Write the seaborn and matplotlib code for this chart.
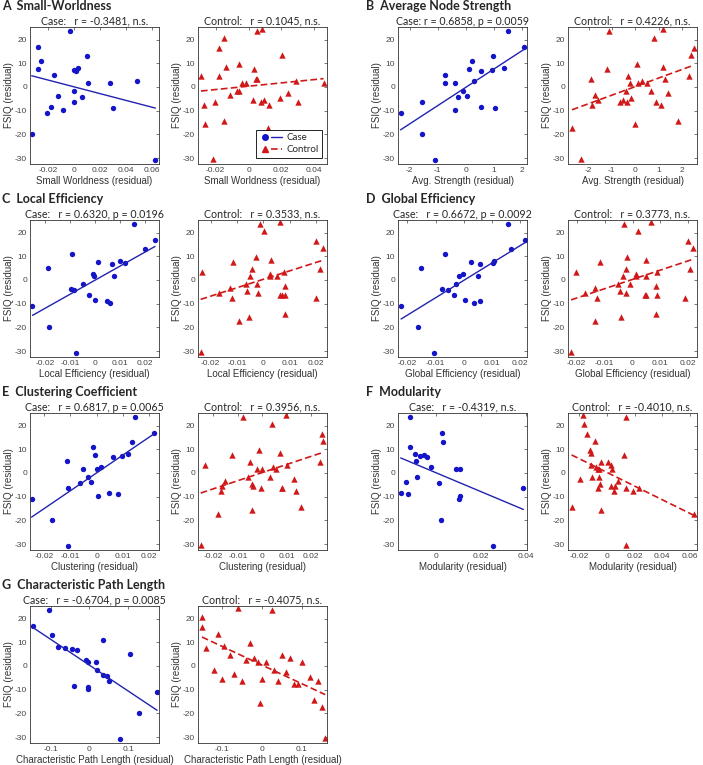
import matplotlib
matplotlib.use('Agg')
import matplotlib.pyplot as plt
import seaborn as sns
from matplotlib.lines import Line2D
from matplotlib.legend_handler import HandlerTuple

sns.set_style('white')
plt.rcParams['font.family'] = ['Liberation Sans', 'DejaVu Sans']

# FSIQ residuals (same subjects in every panel)
case_fsiq = [23.8, 16.9, 12.9, 10.8, 7.6, 7.9, 7.0, 6.6, 4.9, 2.6, 1.6, 1.8,
             -1.5, -3.9, -4.2, -6.2, -8.3, -8.8, -9.8, -10.8, -19.8, -30.9]
ctrl_fsiq = [24.5, 23.5, 20.5, 16.5, 13.5, 9.5, 8.5, 7.5, 4.5, 4.5, 3.5, 3.5,
             2.4, 1.6, 1.6, 1.5, -1.5, -1.5, -2.5, -3.5, -4.6, -5.5, -5.5, -6.4,
             -6.4, -6.4, -7.5, -7.5, -14.5, -15.5, -17.5, -30.6]

# network measure residuals
sw_case = [-0.0031, -0.0278, 0.0104, -0.0252, -0.0278, 0.0034, 0.0003, 0.0018, -0.0156, 0.0486, 0.0109,
           0.0278, 0.0, -0.0125, 0.006, 0.0, -0.0177, 0.0304, -0.0086, -0.0208, -0.0325, 0.0629]
sw_ctrl = [0.0082, 0.0053, -0.0147, -0.018, 0.0204, -0.0057, -0.0137, 0.0035, -0.029, -0.018, 0.0043,
           0.0053, 0.0292, -0.0041, -0.0016, 0.0457, -0.0073, -0.0061, 0.0243, -0.0114, 0.0192, 0.0027,
           0.0094, 0.0073, -0.0206, 0.0304, 0.0122, -0.0269, -0.0149, -0.0265, 0.0118, -0.0216]

str_case = [1.50, 2.07, 0.96, 0.20, 0.10, 1.35, 0.91, 0.53, -0.73, 0.29, -0.74,
            -0.38, -0.10, 0.04, -0.29, -1.56, 0.55, 1.05, -0.40, -2.32, -1.56, -1.08]
str_ctrl = [1.18, -1.11, 0.81, 2.50, 2.38, 0.06, 1.19, -1.21, -0.30, 2.31, -1.89,
            1.28, 0.31, 0.11, 0.52, -0.21, -0.38, 0.68, 1.42, -1.73, -0.17, -1.60,
            -0.52, -0.65, -0.34, 0.89, -1.87, 1.12, 1.82, -0.01, -2.71, -2.31]

leff_case = [0.0155, 0.0240, 0.0198, -0.0090, 0.0013, 0.0102, 0.0120, 0.0070, -0.0186, -0.0007, -0.0005,
             0.0078, -0.0047, -0.0094, -0.0082, -0.0023, -0.0001, 0.0047, 0.0062, -0.0250, -0.0183, -0.0076]
leff_ctrl = [0.0062, -0.0014, 0.0001, 0.0201, 0.0227, -0.0027, 0.0028, -0.0116, -0.0041, 0.0214, -0.0233,
             0.0078, 0.0024, 0.0027, 0.0053, -0.0051, -0.0067, -0.0025, 0.0082, -0.0128, -0.0062, -0.0168,
             -0.0019, 0.0062, 0.0070, 0.0081, -0.0119, 0.0199, 0.0082, -0.0053, -0.0091, -0.0238]

geff_case = [0.0155, 0.0217, 0.0167, -0.0068, 0.0027, 0.0106, 0.0105, 0.0059, -0.0153, -0.0001, -0.0018,
             0.0049, -0.0029, -0.0078, -0.0057, -0.0036, 0.0005, 0.0059, 0.0037, -0.0222, -0.0162, -0.0107]
geff_ctrl = [0.0066, -0.0031, 0.0020, 0.0197, 0.0217, -0.0021, 0.0049, -0.0116, -0.0025, 0.0205, -0.0204,
             0.0089, 0.0011, 0.0012, 0.0049, -0.0033, -0.0051, -0.0009, 0.0083, -0.0134, -0.0045, -0.0171,
             -0.0024, 0.0044, 0.0050, 0.0087, -0.0126, 0.0189, 0.0084, -0.0040, -0.0136, -0.0220]

clus_case = [0.0146, 0.0220, 0.0135, -0.0012, -0.0006, 0.0120, 0.0096, 0.0063, -0.0112, 0.0017, -0.0051,
             0.0, -0.0031, -0.0022, -0.0064, -0.0110, 0.0047, 0.0081, 0.0006, -0.0248, -0.0170, -0.0109]
clus_ctrl = [0.0098, -0.0079, 0.0038, 0.0244, 0.0249, -0.0014, 0.0071, -0.0125, -0.0050, 0.0235, -0.0234,
             0.0101, 0.0045, -0.0001, 0.0054, -0.0024, -0.0059, 0.0033, 0.0128, -0.0154, -0.0042, -0.0163,
             -0.0038, -0.0005, 0.0082, 0.0079, -0.0167, 0.0139, 0.0159, -0.0041, -0.0181, -0.0252]

mod_case = [-0.0114, 0.0026, 0.0034, -0.0114, -0.0050, -0.0093, -0.0070, -0.0038, -0.0088, -0.0020, 0.0091,
            0.0108, -0.0084, -0.0131, 0.0014, 0.0387, -0.0155, -0.0121, 0.0107, 0.0101, 0.0023, 0.0251]
mod_ctrl = [-0.0171, 0.0139, -0.0168, -0.0147, -0.0089, -0.0125, -0.0115, 0.0123, -0.0043, 0.0005, -0.0113,
            0.0029, -0.0082, -0.0055, -0.0062, 0.0036, -0.0108, -0.0060, -0.0192, 0.0082, -0.0053, 0.0026,
            0.0055, -0.0067, 0.0139, 0.0231, 0.0050, 0.0185, -0.0255, -0.0043, 0.0627, 0.0135]

cpl_case = [-0.105, -0.144, -0.097, 0.036, -0.062, -0.082, -0.044, -0.031, 0.105, -0.010, -0.003,
            0.018, 0.020, 0.036, 0.046, 0.050, -0.041, -0.005, -0.005, 0.174, 0.128, 0.079]
cpl_ctrl = [-0.060, 0.025, -0.150, -0.150, -0.110, -0.030, -0.095, -0.140, 0.050, -0.080, -0.020,
            0.070, -0.040, 0.010, -0.010, 0.100, -0.120, 0.030, 0.060, -0.070, 0.120, -0.100,
            0.000, 0.040, 0.140, -0.050, 0.090, 0.080, 0.130, -0.005, 0.150, 0.158]

panels = [
    ('A  Small-Worldness', 'Small Worldness (residual)', sw_case, sw_ctrl,
     'Case:   r = -0.3481, n.s.', 'Control:   r = 0.1045, n.s.'),
    ('B  Average Node Strength', 'Avg. Strength (residual)', str_case, str_ctrl,
     'Case: r = 0.6858, p = 0.0059', 'Control:   r = 0.4226, n.s.'),
    ('C  Local Efficiency', 'Local Efficiency (residual)', leff_case, leff_ctrl,
     'Case:   r = 0.6320, p = 0.0196', 'Control:   r = 0.3533, n.s.'),
    ('D  Global Efficiency', 'Global Efficiency (residual)', geff_case, geff_ctrl,
     'Case:   r = 0.6672, p = 0.0092', 'Control:   r = 0.3773, n.s.'),
    ('E  Clustering Coefficient', 'Clustering (residual)', clus_case, clus_ctrl,
     'Case:   r = 0.6817, p = 0.0065', 'Control:   r = 0.3956, n.s.'),
    ('F  Modularity', 'Modularity (residual)', mod_case, mod_ctrl,
     'Case:   r = -0.4319, n.s.', 'Control:   r = -0.4010, n.s.'),
    ('G  Characteristic Path Length', 'Characteristic Path Length (residual)', cpl_case, cpl_ctrl,
     'Case:   r = -0.6704, p = 0.0085', 'Control:   r = -0.4075, n.s.'),
]

# axis ranges and ticks (case, control)
xlims = [((-0.0338, 0.0657), (-0.0308, 0.0478)), ((-2.41, 2.17), (-2.88, 2.65)),
         ((-0.026, 0.0256), (-0.0248, 0.0242)), ((-0.0233, 0.0224), (-0.0231, 0.0231)),
         ((-0.0254, 0.0238), (-0.0263, 0.0264)), ((-0.0167, 0.0403), (-0.0281, 0.065)),
         ((-0.153, 0.179), (-0.16, 0.1625))]
xticks = [([-0.02, 0, 0.02, 0.04, 0.06], [-0.02, 0, 0.02, 0.04]),
          ([-2, -1, 0, 1, 2], [-2, -1, 0, 1, 2]),
          ([-0.02, -0.01, 0, 0.01, 0.02],) * 2,
          ([-0.02, -0.01, 0, 0.01, 0.02],) * 2,
          ([-0.02, -0.01, 0, 0.01, 0.02],) * 2,
          ([0, 0.02, 0.04], [-0.02, 0, 0.02, 0.04, 0.06]),
          ([-0.1, 0, 0.1],) * 2]
yticks = [-30, -20, -10, 0, 10, 20]

BLUE = '#1414c8'
RED = '#d01818'
W, H = 703, 765
col_left = [30, 198, 398, 568]
row_top = [27, 220, 413, 606]
aw, ah = 129, 137
head_font = ['Lato', 'DejaVu Sans']

fig = plt.figure(figsize=(W / 100, H / 100), dpi=100)

def style_axes(ax, xl, xt, xlabel):
    ax.set_xlim(xl)
    ax.set_ylim(-32.5, 25.3)
    ax.set_xticks(xt)
    ax.set_xticklabels([f'{v:g}' for v in xt])
    ax.set_yticks(yticks)
    ax.set_yticklabels([f'{v:g}' for v in yticks])
    ax.tick_params(direction='in', top=True, right=True, length=2.5, width=0.5,
                   labelsize=6, colors='#444444', pad=2)
    for s in ax.spines.values():
        s.set_linewidth(0.6)
        s.set_color('#333333')
    ax.set_xlabel(xlabel, fontsize=7, color='#333333', labelpad=1.5)
    ax.set_ylabel('FSIQ (residual)', fontsize=7, color='#333333', labelpad=1)

for i, (head, xlabel, xc, xk, tc, tk) in enumerate(panels):
    r, c = divmod(i, 2)
    top = row_top[r]
    for j, (xs, ys, title) in enumerate([(xc, case_fsiq, tc), (xk, ctrl_fsiq, tk)]):
        left = col_left[c * 2 + j]
        ax = fig.add_axes([left / W, 1 - (top + ah) / H, aw / W, ah / H])
        if j == 0:
            sns.regplot(x=xs, y=ys, ci=None, ax=ax, marker='o',
                        scatter_kws=dict(s=15, color=BLUE, linewidths=0, alpha=1),
                        line_kws=dict(color='#2222b0', lw=1.0))
        else:
            sns.regplot(x=xs, y=ys, ci=None, ax=ax, marker='^',
                        scatter_kws=dict(s=21, color=RED, linewidths=0, alpha=1),
                        line_kws=dict(color=RED, lw=1.2, ls=(0, (4, 2))))
        style_axes(ax, xlims[i][j], xticks[i][j], xlabel)
        ax.set_title(title, fontsize=7.7, family=head_font, pad=1.5)
        if i == 0 and j == 1:
            h_case = (Line2D([], [], marker='o', ms=4, color=BLUE, ls='none'),
                      Line2D([], [], color='#2222b0', lw=1.0))
            h_ctrl = (Line2D([], [], marker='^', ms=4.5, color=RED, ls='none'),
                      Line2D([], [], color=RED, lw=1.2, ls=(0, (4, 2))))
            leg = ax.legend([h_case, h_ctrl], ['Case', 'Control'],
                            handler_map={tuple: HandlerTuple(ndivide=None, pad=0.1)},
                            loc='lower right', bbox_to_anchor=(0.965, 0.045), borderaxespad=0,
                            fancybox=False, framealpha=1, edgecolor='black',
                            prop=dict(family=head_font, size=7), handlelength=2.3,
                            handletextpad=0.5, borderpad=0.35, labelspacing=0.35)
            leg.get_frame().set_linewidth(0.6)
    hx = 2 if c == 0 else 366
    fig.text(hx / W, 1 - (top - 21) / H, head, fontsize=9, fontweight='bold',
             family=head_font, va='center', ha='left')

fig.savefig('out.png', dpi=100)
